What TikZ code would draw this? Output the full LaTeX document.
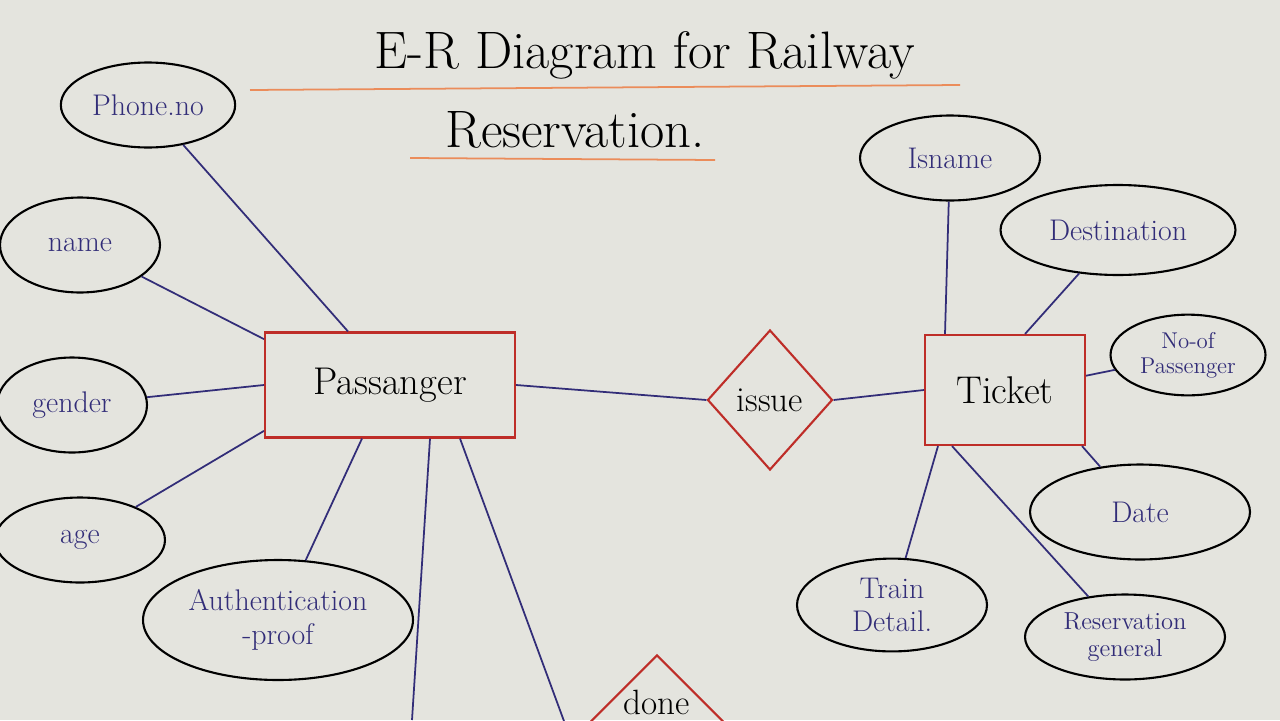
\documentclass[tikz,border=0pt]{standalone}
\usepackage{tikz}
\usetikzlibrary{shapes.geometric}
\definecolor{paper}{RGB}{228,228,222}
\definecolor{ink}{RGB}{50,45,120}
\definecolor{redink}{RGB}{190,45,40}
\definecolor{orangeink}{RGB}{235,140,90}
\tikzset{
  entity/.style={draw=redink, line width=1.2pt, rectangle, font=\fontsize{22}{26}\selectfont},
  relation/.style={draw=redink, line width=1.2pt, diamond, inner sep=0pt, font=\fontsize{20}{24}\selectfont},
  attr/.style={draw=black, line width=1.2pt, ellipse, align=center, font=\fontsize{17}{19}\selectfont, text=ink},
  link/.style={draw=ink, line width=1pt},
}
\begin{document}
\begin{tikzpicture}[x=0.02cm, y=-0.02cm]
  \useasboundingbox (0,0) rectangle (1280,720);
  \fill[paper] (0,0) rectangle (1280,720);
  \clip (0,0) rectangle (1280,720);

  % title
  \node (title1) at (645,55) {\fontsize{30}{34}\selectfont E-R Diagram for Railway};
  \node (title2) at (575,130) {\fontsize{30}{34}\selectfont Reservation.};
  \draw[orangeink, line width=1pt] (250,90) -- (960,85);
  \draw[orangeink, line width=1pt] (410,158) -- (715,160);

  % entities and relations
  \node[entity, minimum width=5cm, minimum height=2.1cm] (passanger) at (390,385) {Passanger};
  \node[entity, minimum width=3.2cm, minimum height=2.2cm] (ticket) at (1005,390) {Ticket};
  \node[relation, minimum width=2.5cm, minimum height=2.8cm] (issue) at (770,400) {issue};
  \node[relation, minimum width=3.4cm, minimum height=3.4cm] (done) at (657,740) {};
  \node[font=\fontsize{20}{24}\selectfont] (donetext) at (657,702) {done};

  % attributes of passanger
  \node[attr, minimum width=3.1cm, minimum height=1.7cm] (phone) at (148,105) {Phone.no};
  \node[attr, minimum width=3.2cm, minimum height=1.9cm] (name) at (80,245) {name};
  \node[attr, minimum width=3cm, minimum height=1.9cm] (gender) at (72,405) {gender};
  \node[attr, minimum width=3.4cm, minimum height=1.7cm] (age) at (80,540) {age};
  \node[attr, minimum width=5.4cm, minimum height=2.4cm] (auth) at (278,620) {Authentication\\-proof};

  % attributes of ticket
  \node[attr, minimum width=3.6cm, minimum height=1.7cm] (isname) at (950,158) {Isname};
  \node[attr, minimum width=4.7cm, minimum height=1.8cm] (dest) at (1118,230) {Destination};
  \node[attr, minimum width=3.1cm, minimum height=1.6cm, font=\fontsize{13}{14}\selectfont] (nopass) at (1188,355) {No-of\\Passenger};
  \node[attr, minimum width=4.4cm, minimum height=1.9cm] (date) at (1140,512) {Date};
  \node[attr, minimum width=3.8cm, minimum height=1.7cm] (train) at (892,605) {Train\\Detail.};
  \node[attr, minimum width=4cm, minimum height=1.7cm, font=\fontsize{14}{15}\selectfont] (resgen) at (1125,637) {Reservation\\general};

  \coordinate (offpage) at (412,720);

  % connectors
  \draw[link] (phone) -- (passanger.north west -| 348,0) ;
  \draw[link] (name) -- (passanger.160);
  \draw[link] (gender) -- (passanger.west);
  \draw[link] (age) -- (passanger.200);
  \draw[link] (auth) -- (passanger.south -| 362,0);
  \draw[link] (passanger.south -| 430,0) -- (offpage);
  \draw[link] (passanger.south -| 460,0) -- (done.west);
  \draw[link] (passanger.east) -- (issue.west);
  \draw[link] (issue.east) -- (ticket.west);
  \draw[link] (isname) -- (ticket.north west -| 945,0);
  \draw[link] (dest) -- (ticket.north -| 1025,0);
  \draw[link] (nopass) -- (ticket.10);
  \draw[link] (date) -- (ticket.south east -| 1082,0);
  \draw[link] (train) -- (ticket.south -| 938,0);
  \draw[link] (resgen) -- (ticket.south -| 952,0);
\end{tikzpicture}
\end{document}
